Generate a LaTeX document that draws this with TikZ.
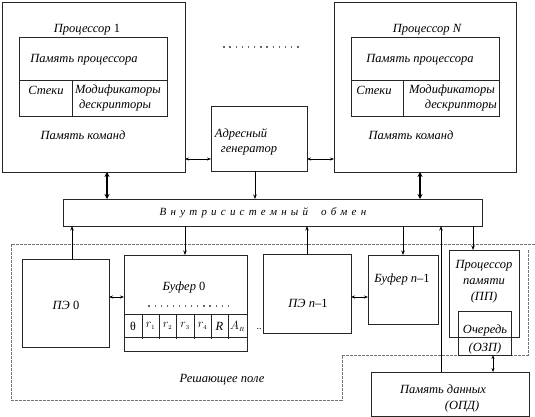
\documentclass[tikz,border=0pt]{standalone}
\usepackage{fontspec}
\setmainfont{Liberation Serif}
\usetikzlibrary{arrows.meta}
\begin{document}
\begin{tikzpicture}[x=1pt,y=-1pt,
 box/.style={draw=black!85, line width=1pt, inner sep=0pt, outer sep=0pt, anchor=north west},
 thinbox/.style={draw=black!85, line width=0.8pt, inner sep=0pt, outer sep=0pt, anchor=north west},
 lbl/.style={font=\fontsize{12.5}{13}\selectfont\itshape, inner sep=0pt},
 arr/.style={line width=0.8pt, -{Stealth[length=4.5pt,width=3.5pt]}},
 darr/.style={line width=0.7pt, {Stealth[length=4pt,width=3pt]}-{Stealth[length=4pt,width=3pt]}},
 barr/.style={line width=1.3pt, {Stealth[length=5pt,width=5pt]}-{Stealth[length=5pt,width=5pt]}},
 field/.style={draw=black!55, line width=0.6pt, dash pattern=on 3pt off 1pt},
 dotmark/.style={fill=black!60},
]
\useasboundingbox (0,0) rectangle (535,417);

% solving field (dashed)
\draw[field] (535,244) -- (11,244) -- (11,400) -- (342,400) -- (342,355) -- (528,355) -- (528,250);

% Processor 1
\node[box, minimum width=183pt, minimum height=169pt] (P1) at (2,3) {};
\node[thinbox, minimum width=148pt, minimum height=79pt] (P1in) at (19,37) {};
\draw[black!85, line width=0.8pt] (19,80) -- (167,80);
\draw[black!85, line width=0.8pt] (72,80) -- (72,116);
\node[lbl] (t1) at (87,30) {Процессор {\upshape 1}};
\node[lbl] (t2) at (84,60) {Память процессора};
\node[lbl] (t3) at (46,90) {Стеки};
\node[lbl] (t4) at (118,90) {Модификаторы};
\node[lbl] (t5) at (115,105) {дескрипторы};
\node[lbl] (t6) at (83,135) {Память команд};

% Processor N
\node[box, minimum width=182pt, minimum height=169pt] (PN) at (334,3) {};
\node[thinbox, minimum width=148pt, minimum height=79pt] (PNin) at (351,37) {};
\draw[black!85, line width=0.8pt] (351,80) -- (499,80);
\draw[black!85, line width=0.8pt] (403,80) -- (403,116);
\node[lbl] (u1) at (427,30) {Процессор N};
\node[lbl] (u2) at (420,60) {Память процессора};
\node[lbl] (u3) at (374,90) {Стеки};
\node[lbl] (u4) at (452,90) {Модификаторы};
\node[lbl, anchor=east] (u5) at (497,105) {дескрипторы};
\node[lbl] (u6) at (411,135) {Память команд};

% dots between processors
\foreach \i in {0,...,12} \fill[dotmark] (224+\i*6.15-0.7,46.3) rectangle ++(1.4,1.4);

% Address generator
\node[box, minimum width=96pt, minimum height=64pt] (AG) at (211,107) {};
\node[lbl] (a1) at (241,134) {Адресный};
\node[lbl] (a2) at (249,151) {генератор};

\draw[darr] (P1.east |- 0,159) -- (AG.west |- 0,159);
\draw[darr] (AG.east |- 0,159) -- (PN.west |- 0,159);

% Bus
\node[box, minimum width=419pt, minimum height=27pt] (BUS) at (63,199) {};
\node[lbl, font=\fontsize{11}{12}\selectfont\itshape] (bt) at (263,213) {В\hspace{4.2pt}н\hspace{4.2pt}у\hspace{4.2pt}т\hspace{4.2pt}р\hspace{4.2pt}и\hspace{4.2pt}с\hspace{4.2pt}и\hspace{4.2pt}с\hspace{4.2pt}т\hspace{4.2pt}е\hspace{4.2pt}м\hspace{4.2pt}н\hspace{4.2pt}ы\hspace{4.2pt}й\hspace{13pt}о\hspace{4.2pt}б\hspace{4.2pt}м\hspace{4.2pt}е\hspace{4.2pt}н};

\draw[barr] (P1.south -| 107,0) -- (BUS.north -| 107,0);
\draw[barr] (PN.south -| 420,0) -- (BUS.north -| 420,0);
\draw[arr] (AG.south -| 255,0) -- (BUS.north -| 255,0);

% PE 0
\node[box, minimum width=87pt, minimum height=88pt] (PE0) at (22,259) {};
\node[lbl] (p0) at (66,305) {ПЭ {\upshape 0}};
\draw[arr] (PE0.north -| 72,0) -- (BUS.south -| 72,0);

% Buffer 0
\node[box, minimum width=123pt, minimum height=96pt] (B0) at (124,255) {};
\node[lbl] (b0) at (184,288) {Буфер {\upshape 0}};
\foreach \i in {0,...,13} \fill[dotmark] (149+\i*6.1-0.6,305.4) rectangle ++(1.2,1.2);
\draw[black!85, line width=0.8pt] (124,314) -- (247,314);
\draw[black!85, line width=0.8pt] (124,337) -- (247,337);
\foreach \xx in {142,159,176,194,211,228} \draw[black!85, line width=0.8pt] (\xx,314) -- (\xx,339);
\node[lbl, font=\fontsize{12}{13}\selectfont] (c0) at (133,326) {θ};
\node[lbl] (c1) at (150.5,326) {$r_{\scriptscriptstyle 1}$};
\node[lbl] (c2) at (167.5,326) {$r_{\scriptscriptstyle 2}$};
\node[lbl] (c3) at (185,326) {$r_{\scriptscriptstyle 3}$};
\node[lbl] (c4) at (202.5,326) {$r_{\scriptscriptstyle 4}$};
\node[lbl] (c5) at (219.5,326) {R};
\node[lbl] (c6) at (237.5,326) {$A_{\scriptscriptstyle R}$};
\node[lbl, font=\fontsize{10}{11}\selectfont] (cd) at (259,329) {..};
\draw[arr] (BUS.south -| 185,0) -- (B0.north -| 185,0);
\draw[darr] (PE0.east |- 0,297) -- (B0.west |- 0,297);

% PE n-1
\node[box, minimum width=88pt, minimum height=79pt] (PEn) at (263,254) {};
\node[lbl] (pn) at (308,303) {ПЭ n{\upshape –1}};
\draw[arr] (PEn.north -| 307,0) -- (BUS.south -| 307,0);

% Buffer n-1
\node[box, minimum width=70pt, minimum height=69pt] (Bn) at (368,255) {};
\node[lbl] (bn) at (402,280) {Буфер n{\upshape –1}};
\draw[arr] (BUS.south -| 403,0) -- (Bn.north -| 403,0);
\draw[darr] (PEn.east |- 0,297) -- (Bn.west |- 0,297);

% Memory processor
\node[box, minimum width=70pt, minimum height=87pt] (PP) at (449,250) {};
\node[lbl] (pp1) at (484,266) {Процессор};
\node[lbl] (pp2) at (484,282) {памяти};
\node[lbl] (pp3) at (484,297) {(ПП)};
\draw[arr] (BUS.south -| 473,0) -- (PP.north -| 473,0);

% Queue
\node[box, minimum width=53pt, minimum height=44pt] (OZP) at (458,311) {};
\node[lbl] (q1) at (485,330) {Очередь};
\node[lbl] (q2) at (485,348) {(ОЗП)};

% Data memory
\node[box, minimum width=158pt, minimum height=44pt] (OPD) at (371,372) {};
\node[lbl] (m1) at (443,389) {Память данных};
\node[lbl] (m2) at (462,406) {(ОПД)};
\draw[arr] (OPD.north -| 441,0) -- (BUS.south -| 441,0);
\draw[darr] (OZP.south -| 493,0) -- (OPD.north -| 493,0);

\node[lbl] (rf) at (222,380) {Решающее поле};
\end{tikzpicture}
\end{document}
